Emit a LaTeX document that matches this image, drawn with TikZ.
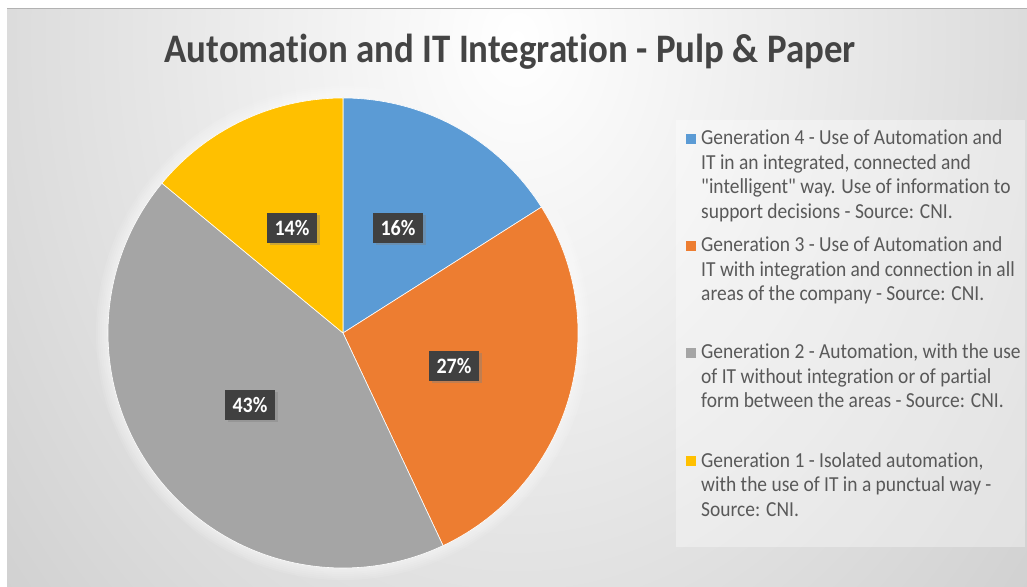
\documentclass[tikz,border=0pt]{standalone}
\usepackage{fontspec}
\setmainfont{Carlito}[Ligatures={TeXOff,NoCommon}, FakeStretch=0.91]
\usetikzlibrary{shadows}

\definecolor{gen4}{HTML}{5B9BD5}
\definecolor{gen3}{HTML}{ED7D31}
\definecolor{gen2}{HTML}{A5A5A5}
\definecolor{gen1}{HTML}{FFC000}
\definecolor{txtgray}{HTML}{595959}
\definecolor{titlegray}{HTML}{444444}
\definecolor{boxdark}{HTML}{404040}
\definecolor{bgedge}{HTML}{B6B6B6}

\tikzset{
  pct/.style={fill=boxdark, text=white, inner sep=0pt,
    minimum width=50pt, minimum height=30pt,
    font=\fontsize{22}{22}\selectfont\bfseries,
    drop shadow={shadow xshift=2.5pt, shadow yshift=-2.5pt, opacity=0.4}},
  legkey/.style={fill=#1, minimum size=10pt, inner sep=0pt},
  % anchored at the baseline of the last line
  legtext/.style={anchor=base west, align=left, inner sep=0pt, text=txtgray,
    font=\fontsize{21.4}{24.5}\selectfont},
}

\begin{document}
\begin{tikzpicture}[x=1pt, y=1pt]
\useasboundingbox (0,0) rectangle (1027,586);
\fill[white] (0,0) rectangle (1027,586);

% chart area
\begin{scope}
  \clip (7,0) rectangle (1027,577);
  \shade[inner color=white, outer color=bgedge] (517,546) ellipse (1060pt and 1360pt);
\end{scope}
\draw[black!30, line width=1pt] (7,577) -- (1027,577);

\node (title) [anchor=base, text=titlegray, font=\fontsize{40.5}{40.5}\selectfont\bfseries]
  at (510,523) {Automation and IT Integration - Pulp \& Paper};

% pie
\coordinate (c) at (343,253);
\foreach \r in {1,...,6}
  \fill[white, opacity=0.1] (c) circle (235pt+2*\r pt);
\foreach \s/\e/\col in {32.4/90/gen4, -64.8/32.4/gen3, 140.4/295.2/gen2, 90/140.4/gen1}
  \filldraw[fill=\col, draw=white, line width=0.6pt] (c) -- ++(\s:235pt) arc (\s:\e:235pt) -- cycle;

\node (p4) [pct] at (398,358) {16\%};
\node (p3) [pct] at (454,220) {27\%};
\node (p2) [pct] at (250,181) {43\%};
\node (p1) [pct] at (292,358) {14\%};

% legend
\fill[white, opacity=0.35] (676,466) rectangle (1025,39);

\node (k4) [legkey=gen4] at (690.5,447) {};
\node (g4) [legtext] at (701,367.5) {Generation 4 - Use of Automation and\\IT in an integrated, connected and\\"intelligent" way. Use of information to\\support decisions - Source: CNI.};

\node (k3) [legkey=gen3] at (690.5,340) {};
\node (g3) [legtext] at (701,285) {Generation 3 - Use of Automation and\\IT with integration and connection in all\\areas of the company - Source: CNI.};

\node (k2) [legkey=gen2] at (690.5,233) {};
\node (g2) [legtext] at (701,178) {Generation 2 - Automation, with the use\\of IT without integration or of partial\\form between the areas - Source: CNI.};

\node (k1) [legkey=gen1] at (690.5,125) {};
\node (g1) [legtext] at (701,70) {Generation 1 - Isolated automation,\\with the use of IT in a punctual way -\\Source: CNI.};
\end{tikzpicture}
\end{document}
